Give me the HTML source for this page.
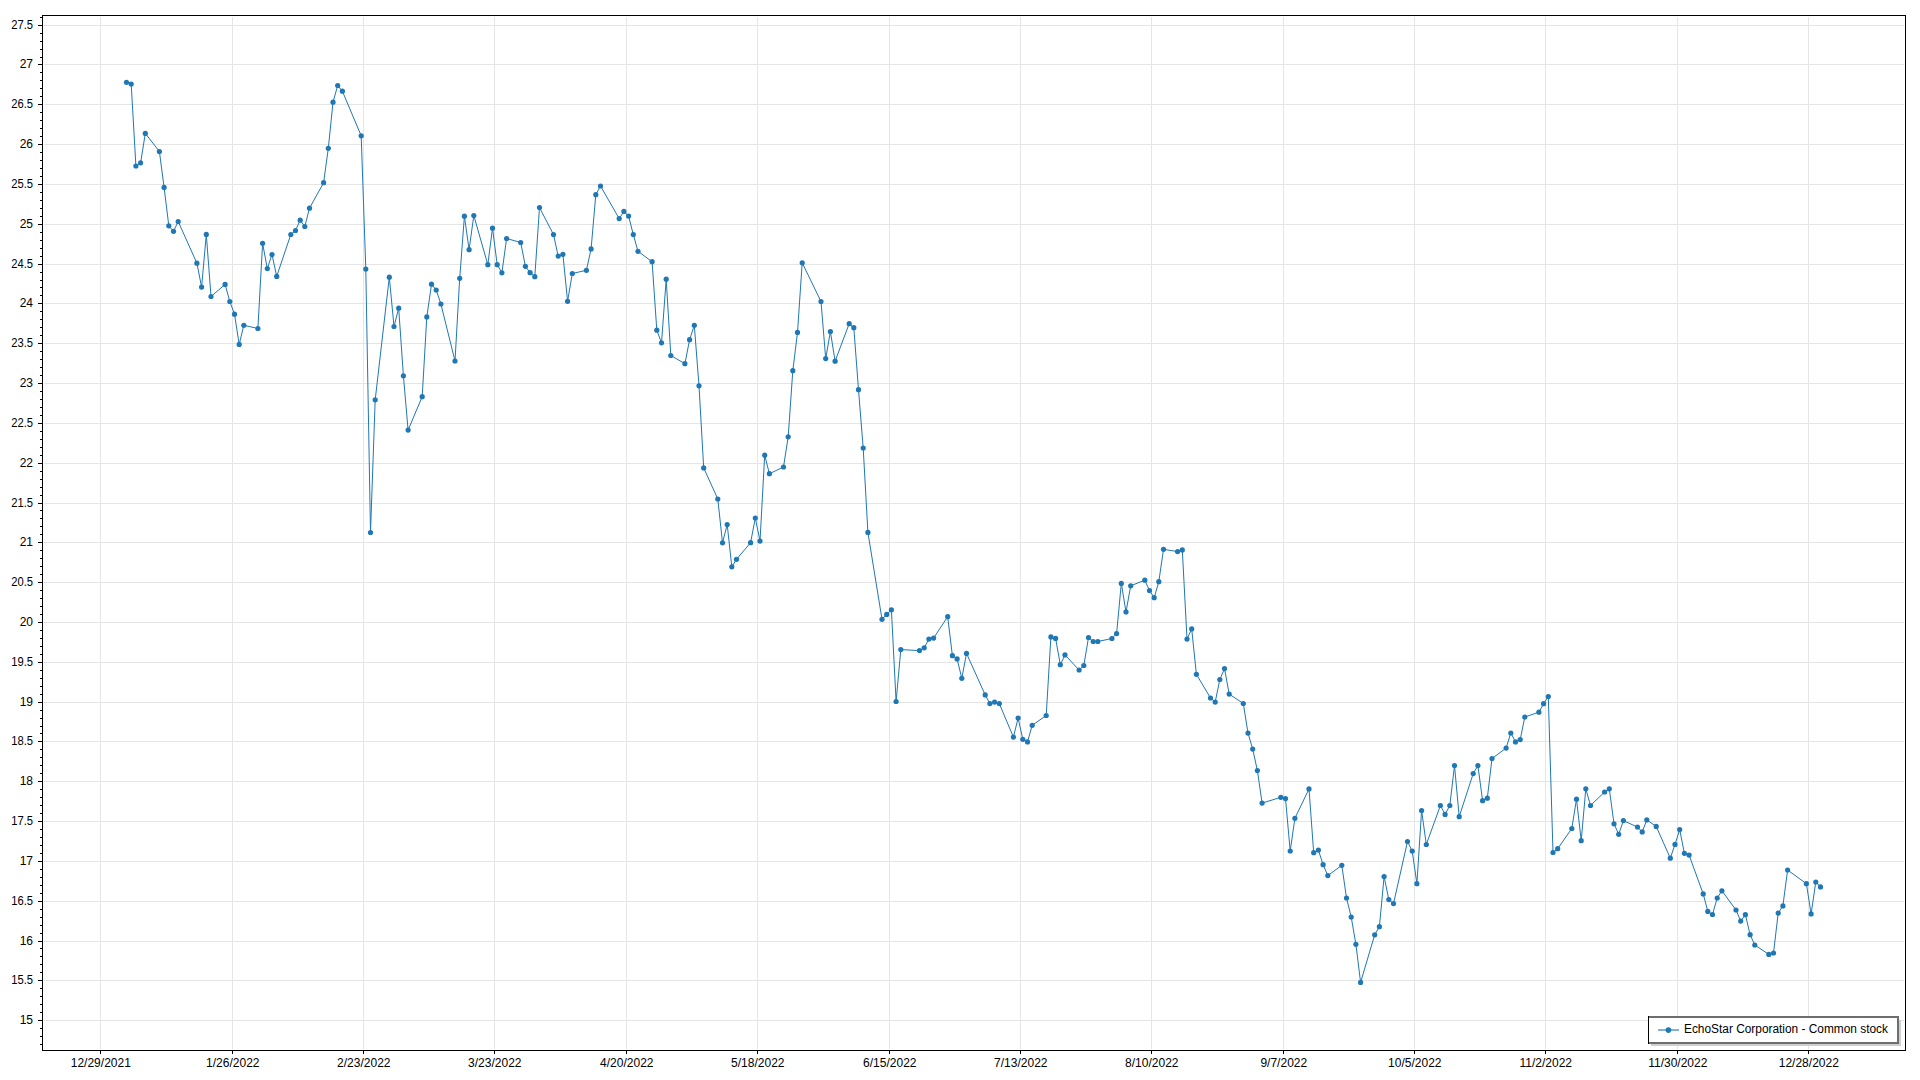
<!DOCTYPE html><html><head><meta charset="utf-8"><style>html,body{margin:0;padding:0;background:#fff;width:1920px;height:1080px;overflow:hidden}svg{display:block}text{font-family:"Liberation Sans",sans-serif;font-size:12px;fill:#000}</style></head><body>
<svg width="1920" height="1080" viewBox="0 0 1920 1080">
<rect x="0" y="0" width="1920" height="1080" fill="#fff"/>
<path d="M44 25.5H1904M44 64.5H1904M44 104.5H1904M44 144.5H1904M44 184.5H1904M44 224.5H1904M44 264.5H1904M44 303.5H1904M44 343.5H1904M44 383.5H1904M44 423.5H1904M44 463.5H1904M44 503.5H1904M44 542.5H1904M44 582.5H1904M44 622.5H1904M44 662.5H1904M44 702.5H1904M44 741.5H1904M44 781.5H1904M44 821.5H1904M44 861.5H1904M44 901.5H1904M44 941.5H1904M44 980.5H1904M44 1020.5H1904M100.5 17V1049M232.5 17V1049M363.5 17V1049M494.5 17V1049M626.5 17V1049M757.5 17V1049M889.5 17V1049M1020.5 17V1049M1151.5 17V1049M1283.5 17V1049M1414.5 17V1049M1545.5 17V1049M1677.5 17V1049M1808.5 17V1049" stroke="#e5e5e5" stroke-width="1" fill="none" shape-rendering="crispEdges"/>
<path d="M40 17.5H42M38 25.5H42M40 33.5H42M40 41.5H42M40 49.5H42M40 57.5H42M38 64.5H42M40 72.5H42M40 80.5H42M40 88.5H42M40 96.5H42M38 104.5H42M40 112.5H42M40 120.5H42M40 128.5H42M40 136.5H42M38 144.5H42M40 152.5H42M40 160.5H42M40 168.5H42M40 176.5H42M38 184.5H42M40 192.5H42M40 200.5H42M40 208.5H42M40 216.5H42M38 224.5H42M40 232.5H42M40 240.5H42M40 248.5H42M40 256.5H42M38 264.5H42M40 272.5H42M40 280.5H42M40 287.5H42M40 295.5H42M38 303.5H42M40 311.5H42M40 319.5H42M40 327.5H42M40 335.5H42M38 343.5H42M40 351.5H42M40 359.5H42M40 367.5H42M40 375.5H42M38 383.5H42M40 391.5H42M40 399.5H42M40 407.5H42M40 415.5H42M38 423.5H42M40 431.5H42M40 439.5H42M40 447.5H42M40 455.5H42M38 463.5H42M40 471.5H42M40 479.5H42M40 487.5H42M40 495.5H42M38 503.5H42M40 510.5H42M40 518.5H42M40 526.5H42M40 534.5H42M38 542.5H42M40 550.5H42M40 558.5H42M40 566.5H42M40 574.5H42M38 582.5H42M40 590.5H42M40 598.5H42M40 606.5H42M40 614.5H42M38 622.5H42M40 630.5H42M40 638.5H42M40 646.5H42M40 654.5H42M38 662.5H42M40 670.5H42M40 678.5H42M40 686.5H42M40 694.5H42M38 702.5H42M40 710.5H42M40 718.5H42M40 726.5H42M40 733.5H42M38 741.5H42M40 749.5H42M40 757.5H42M40 765.5H42M40 773.5H42M38 781.5H42M40 789.5H42M40 797.5H42M40 805.5H42M40 813.5H42M38 821.5H42M40 829.5H42M40 837.5H42M40 845.5H42M40 853.5H42M38 861.5H42M40 869.5H42M40 877.5H42M40 885.5H42M40 893.5H42M38 901.5H42M40 909.5H42M40 917.5H42M40 925.5H42M40 933.5H42M38 941.5H42M40 948.5H42M40 956.5H42M40 964.5H42M40 972.5H42M38 980.5H42M40 988.5H42M40 996.5H42M40 1004.5H42M40 1012.5H42M38 1020.5H42M40 1028.5H42M40 1036.5H42M40 1044.5H42M100.5 1051V1054M232.5 1051V1054M363.5 1051V1054M494.5 1051V1054M626.5 1051V1054M757.5 1051V1054M889.5 1051V1054M1020.5 1051V1054M1151.5 1051V1054M1283.5 1051V1054M1414.5 1051V1054M1545.5 1051V1054M1677.5 1051V1054M1808.5 1051V1054" stroke="#000" stroke-width="1" fill="none" shape-rendering="crispEdges"/>
<text x="33" y="28.6" text-anchor="end" textLength="21.8" lengthAdjust="spacingAndGlyphs">27.5</text><text x="33" y="67.6" text-anchor="end">27</text><text x="33" y="107.6" text-anchor="end" textLength="21.8" lengthAdjust="spacingAndGlyphs">26.5</text><text x="33" y="147.6" text-anchor="end">26</text><text x="33" y="187.6" text-anchor="end" textLength="21.8" lengthAdjust="spacingAndGlyphs">25.5</text><text x="33" y="227.6" text-anchor="end">25</text><text x="33" y="267.6" text-anchor="end" textLength="21.8" lengthAdjust="spacingAndGlyphs">24.5</text><text x="33" y="306.6" text-anchor="end">24</text><text x="33" y="346.6" text-anchor="end" textLength="21.8" lengthAdjust="spacingAndGlyphs">23.5</text><text x="33" y="386.6" text-anchor="end">23</text><text x="33" y="426.6" text-anchor="end" textLength="21.8" lengthAdjust="spacingAndGlyphs">22.5</text><text x="33" y="466.6" text-anchor="end">22</text><text x="33" y="506.6" text-anchor="end" textLength="21.8" lengthAdjust="spacingAndGlyphs">21.5</text><text x="33" y="545.6" text-anchor="end">21</text><text x="33" y="585.6" text-anchor="end" textLength="21.8" lengthAdjust="spacingAndGlyphs">20.5</text><text x="33" y="625.6" text-anchor="end">20</text><text x="33" y="665.6" text-anchor="end" textLength="21.8" lengthAdjust="spacingAndGlyphs">19.5</text><text x="33" y="705.6" text-anchor="end">19</text><text x="33" y="744.6" text-anchor="end" textLength="21.8" lengthAdjust="spacingAndGlyphs">18.5</text><text x="33" y="784.6" text-anchor="end">18</text><text x="33" y="824.6" text-anchor="end" textLength="21.8" lengthAdjust="spacingAndGlyphs">17.5</text><text x="33" y="864.6" text-anchor="end">17</text><text x="33" y="904.6" text-anchor="end" textLength="21.8" lengthAdjust="spacingAndGlyphs">16.5</text><text x="33" y="944.6" text-anchor="end">16</text><text x="33" y="983.6" text-anchor="end" textLength="21.8" lengthAdjust="spacingAndGlyphs">15.5</text><text x="33" y="1023.6" text-anchor="end">15</text><text x="100.8" y="1066.6" text-anchor="middle">12/29/2021</text><text x="232.8" y="1066.6" text-anchor="middle">1/26/2022</text><text x="363.8" y="1066.6" text-anchor="middle">2/23/2022</text><text x="494.8" y="1066.6" text-anchor="middle">3/23/2022</text><text x="626.8" y="1066.6" text-anchor="middle">4/20/2022</text><text x="757.8" y="1066.6" text-anchor="middle">5/18/2022</text><text x="889.8" y="1066.6" text-anchor="middle">6/15/2022</text><text x="1020.8" y="1066.6" text-anchor="middle">7/13/2022</text><text x="1151.8" y="1066.6" text-anchor="middle">8/10/2022</text><text x="1283.8" y="1066.6" text-anchor="middle">9/7/2022</text><text x="1414.8" y="1066.6" text-anchor="middle">10/5/2022</text><text x="1545.8" y="1066.6" text-anchor="middle">11/2/2022</text><text x="1677.8" y="1066.6" text-anchor="middle">11/30/2022</text><text x="1808.8" y="1066.6" text-anchor="middle">12/28/2022</text>
<path d="M126.5 82.3 L131.2 84.0 L135.9 166.0 L140.6 162.8 L145.3 133.4 L159.4 151.5 L164.1 187.4 L168.8 225.8 L173.5 231.3 L178.2 221.5 L196.9 263.2 L201.6 287.1 L206.3 234.4 L211.0 296.5 L225.1 284.4 L229.8 301.5 L234.5 314.2 L239.2 344.4 L243.8 325.3 L257.9 328.5 L262.6 243.3 L267.3 268.5 L272.0 254.6 L276.7 276.4 L290.8 234.5 L295.5 230.5 L300.2 220.2 L304.8 226.5 L309.5 208.2 L323.6 182.7 L328.3 148.3 L333.0 102.2 L337.7 85.5 L342.4 91.2 L361.2 135.8 L365.8 269.1 L370.5 532.5 L375.2 399.8 L389.3 277.2 L394.0 326.5 L398.7 308.2 L403.4 375.8 L408.1 430.1 L422.2 396.7 L426.8 316.9 L431.5 284.2 L436.2 290.0 L440.9 304.0 L455.0 361.0 L459.7 278.3 L464.4 216.2 L469.1 249.7 L473.8 215.5 L487.8 264.7 L492.5 228.2 L497.2 264.7 L501.9 272.8 L506.6 238.5 L520.7 242.5 L525.4 266.3 L530.1 272.7 L534.8 276.7 L539.5 207.5 L553.5 234.6 L558.2 256.1 L562.9 254.3 L567.6 301.3 L572.3 273.5 L586.4 270.3 L591.1 248.9 L595.8 194.7 L600.5 186.0 L619.2 218.6 L623.9 211.4 L628.6 216.1 L633.3 234.6 L638.0 251.3 L652.1 261.7 L656.8 330.2 L661.5 342.8 L666.2 279.2 L670.8 355.5 L684.9 363.7 L689.6 339.7 L694.3 325.3 L699.0 385.8 L703.7 467.9 L717.8 499.0 L722.5 542.8 L727.2 524.5 L731.8 566.8 L736.5 559.3 L750.6 542.7 L755.3 518.0 L760.0 541.1 L764.7 455.2 L769.4 473.7 L783.5 467.0 L788.2 436.8 L792.8 370.7 L797.5 332.4 L802.2 262.8 L821.0 301.5 L825.7 358.6 L830.4 331.6 L835.1 361.2 L849.2 323.7 L853.8 327.7 L858.5 389.7 L863.2 448.0 L867.9 532.4 L882.0 619.3 L886.7 614.4 L891.4 609.8 L896.1 701.5 L900.8 649.6 L919.5 650.6 L924.2 647.8 L928.9 639.1 L933.6 638.1 L947.7 616.7 L952.4 655.7 L957.1 658.9 L961.8 678.3 L966.5 653.4 L985.2 694.9 L989.9 703.6 L994.6 702.1 L999.3 703.6 L1013.4 737.1 L1018.1 718.1 L1022.8 739.3 L1027.5 741.9 L1032.2 725.3 L1046.2 715.5 L1050.9 636.9 L1055.6 638.4 L1060.3 664.7 L1065.0 654.9 L1079.1 670.0 L1083.8 665.5 L1088.5 637.5 L1093.2 641.5 L1097.8 641.5 L1111.9 638.5 L1116.6 633.6 L1121.3 583.4 L1126.0 611.9 L1130.7 585.8 L1144.8 580.2 L1149.5 590.6 L1154.2 597.7 L1158.8 581.7 L1163.5 549.3 L1177.6 551.6 L1182.3 549.9 L1187.0 639.1 L1191.7 628.9 L1196.4 674.3 L1210.5 698.0 L1215.2 702.1 L1219.8 679.5 L1224.5 668.6 L1229.2 694.1 L1243.3 703.5 L1248.0 733.1 L1252.7 749.1 L1257.4 770.6 L1262.1 803.1 L1280.8 797.3 L1285.5 798.6 L1290.2 851.0 L1294.9 818.3 L1309.0 788.9 L1313.7 852.7 L1318.4 850.1 L1323.1 864.7 L1327.8 875.6 L1341.8 865.3 L1346.5 898.0 L1351.2 917.0 L1355.9 944.3 L1360.6 982.4 L1374.7 934.8 L1379.4 926.7 L1384.1 876.5 L1388.8 899.6 L1393.5 903.6 L1407.5 841.5 L1412.2 851.0 L1416.9 883.7 L1421.6 810.5 L1426.3 844.5 L1440.4 805.5 L1445.1 814.4 L1449.8 805.5 L1454.5 765.6 L1459.2 816.7 L1473.2 773.6 L1477.9 765.6 L1482.6 800.7 L1487.3 798.2 L1492.0 758.5 L1506.1 748.1 L1510.8 733.0 L1515.5 741.9 L1520.2 739.6 L1524.8 717.0 L1538.9 712.2 L1543.6 703.7 L1548.3 696.5 L1553.0 852.5 L1557.7 848.7 L1571.8 828.5 L1576.5 799.2 L1581.2 840.7 L1585.8 788.8 L1590.5 805.5 L1604.6 792.0 L1609.3 788.8 L1614.0 823.8 L1618.7 834.3 L1623.4 820.6 L1637.5 827.1 L1642.2 831.9 L1646.8 819.9 L1656.2 826.4 L1670.3 858.2 L1675.0 844.4 L1679.7 829.6 L1684.4 853.3 L1689.1 855.1 L1703.2 893.9 L1707.8 911.4 L1712.5 914.5 L1717.2 898.0 L1721.9 890.8 L1736.0 910.0 L1740.7 921.1 L1745.4 914.7 L1750.1 934.7 L1754.8 945.0 L1768.8 954.4 L1773.5 953.0 L1778.2 913.1 L1782.9 905.9 L1787.6 870.0 L1806.4 883.7 L1811.1 913.9 L1815.8 882.0 L1820.5 886.9" stroke="#1f77b4" stroke-width="1" fill="none" stroke-linejoin="round"/>
<g fill="#1f77b4"><circle cx="126.5" cy="82.3" r="2.6"/><circle cx="131.2" cy="84.0" r="2.6"/><circle cx="135.9" cy="166.0" r="2.6"/><circle cx="140.6" cy="162.8" r="2.6"/><circle cx="145.3" cy="133.4" r="2.6"/><circle cx="159.4" cy="151.5" r="2.6"/><circle cx="164.1" cy="187.4" r="2.6"/><circle cx="168.8" cy="225.8" r="2.6"/><circle cx="173.5" cy="231.3" r="2.6"/><circle cx="178.2" cy="221.5" r="2.6"/><circle cx="196.9" cy="263.2" r="2.6"/><circle cx="201.6" cy="287.1" r="2.6"/><circle cx="206.3" cy="234.4" r="2.6"/><circle cx="211.0" cy="296.5" r="2.6"/><circle cx="225.1" cy="284.4" r="2.6"/><circle cx="229.8" cy="301.5" r="2.6"/><circle cx="234.5" cy="314.2" r="2.6"/><circle cx="239.2" cy="344.4" r="2.6"/><circle cx="243.8" cy="325.3" r="2.6"/><circle cx="257.9" cy="328.5" r="2.6"/><circle cx="262.6" cy="243.3" r="2.6"/><circle cx="267.3" cy="268.5" r="2.6"/><circle cx="272.0" cy="254.6" r="2.6"/><circle cx="276.7" cy="276.4" r="2.6"/><circle cx="290.8" cy="234.5" r="2.6"/><circle cx="295.5" cy="230.5" r="2.6"/><circle cx="300.2" cy="220.2" r="2.6"/><circle cx="304.8" cy="226.5" r="2.6"/><circle cx="309.5" cy="208.2" r="2.6"/><circle cx="323.6" cy="182.7" r="2.6"/><circle cx="328.3" cy="148.3" r="2.6"/><circle cx="333.0" cy="102.2" r="2.6"/><circle cx="337.7" cy="85.5" r="2.6"/><circle cx="342.4" cy="91.2" r="2.6"/><circle cx="361.2" cy="135.8" r="2.6"/><circle cx="365.8" cy="269.1" r="2.6"/><circle cx="370.5" cy="532.5" r="2.6"/><circle cx="375.2" cy="399.8" r="2.6"/><circle cx="389.3" cy="277.2" r="2.6"/><circle cx="394.0" cy="326.5" r="2.6"/><circle cx="398.7" cy="308.2" r="2.6"/><circle cx="403.4" cy="375.8" r="2.6"/><circle cx="408.1" cy="430.1" r="2.6"/><circle cx="422.2" cy="396.7" r="2.6"/><circle cx="426.8" cy="316.9" r="2.6"/><circle cx="431.5" cy="284.2" r="2.6"/><circle cx="436.2" cy="290.0" r="2.6"/><circle cx="440.9" cy="304.0" r="2.6"/><circle cx="455.0" cy="361.0" r="2.6"/><circle cx="459.7" cy="278.3" r="2.6"/><circle cx="464.4" cy="216.2" r="2.6"/><circle cx="469.1" cy="249.7" r="2.6"/><circle cx="473.8" cy="215.5" r="2.6"/><circle cx="487.8" cy="264.7" r="2.6"/><circle cx="492.5" cy="228.2" r="2.6"/><circle cx="497.2" cy="264.7" r="2.6"/><circle cx="501.9" cy="272.8" r="2.6"/><circle cx="506.6" cy="238.5" r="2.6"/><circle cx="520.7" cy="242.5" r="2.6"/><circle cx="525.4" cy="266.3" r="2.6"/><circle cx="530.1" cy="272.7" r="2.6"/><circle cx="534.8" cy="276.7" r="2.6"/><circle cx="539.5" cy="207.5" r="2.6"/><circle cx="553.5" cy="234.6" r="2.6"/><circle cx="558.2" cy="256.1" r="2.6"/><circle cx="562.9" cy="254.3" r="2.6"/><circle cx="567.6" cy="301.3" r="2.6"/><circle cx="572.3" cy="273.5" r="2.6"/><circle cx="586.4" cy="270.3" r="2.6"/><circle cx="591.1" cy="248.9" r="2.6"/><circle cx="595.8" cy="194.7" r="2.6"/><circle cx="600.5" cy="186.0" r="2.6"/><circle cx="619.2" cy="218.6" r="2.6"/><circle cx="623.9" cy="211.4" r="2.6"/><circle cx="628.6" cy="216.1" r="2.6"/><circle cx="633.3" cy="234.6" r="2.6"/><circle cx="638.0" cy="251.3" r="2.6"/><circle cx="652.1" cy="261.7" r="2.6"/><circle cx="656.8" cy="330.2" r="2.6"/><circle cx="661.5" cy="342.8" r="2.6"/><circle cx="666.2" cy="279.2" r="2.6"/><circle cx="670.8" cy="355.5" r="2.6"/><circle cx="684.9" cy="363.7" r="2.6"/><circle cx="689.6" cy="339.7" r="2.6"/><circle cx="694.3" cy="325.3" r="2.6"/><circle cx="699.0" cy="385.8" r="2.6"/><circle cx="703.7" cy="467.9" r="2.6"/><circle cx="717.8" cy="499.0" r="2.6"/><circle cx="722.5" cy="542.8" r="2.6"/><circle cx="727.2" cy="524.5" r="2.6"/><circle cx="731.8" cy="566.8" r="2.6"/><circle cx="736.5" cy="559.3" r="2.6"/><circle cx="750.6" cy="542.7" r="2.6"/><circle cx="755.3" cy="518.0" r="2.6"/><circle cx="760.0" cy="541.1" r="2.6"/><circle cx="764.7" cy="455.2" r="2.6"/><circle cx="769.4" cy="473.7" r="2.6"/><circle cx="783.5" cy="467.0" r="2.6"/><circle cx="788.2" cy="436.8" r="2.6"/><circle cx="792.8" cy="370.7" r="2.6"/><circle cx="797.5" cy="332.4" r="2.6"/><circle cx="802.2" cy="262.8" r="2.6"/><circle cx="821.0" cy="301.5" r="2.6"/><circle cx="825.7" cy="358.6" r="2.6"/><circle cx="830.4" cy="331.6" r="2.6"/><circle cx="835.1" cy="361.2" r="2.6"/><circle cx="849.2" cy="323.7" r="2.6"/><circle cx="853.8" cy="327.7" r="2.6"/><circle cx="858.5" cy="389.7" r="2.6"/><circle cx="863.2" cy="448.0" r="2.6"/><circle cx="867.9" cy="532.4" r="2.6"/><circle cx="882.0" cy="619.3" r="2.6"/><circle cx="886.7" cy="614.4" r="2.6"/><circle cx="891.4" cy="609.8" r="2.6"/><circle cx="896.1" cy="701.5" r="2.6"/><circle cx="900.8" cy="649.6" r="2.6"/><circle cx="919.5" cy="650.6" r="2.6"/><circle cx="924.2" cy="647.8" r="2.6"/><circle cx="928.9" cy="639.1" r="2.6"/><circle cx="933.6" cy="638.1" r="2.6"/><circle cx="947.7" cy="616.7" r="2.6"/><circle cx="952.4" cy="655.7" r="2.6"/><circle cx="957.1" cy="658.9" r="2.6"/><circle cx="961.8" cy="678.3" r="2.6"/><circle cx="966.5" cy="653.4" r="2.6"/><circle cx="985.2" cy="694.9" r="2.6"/><circle cx="989.9" cy="703.6" r="2.6"/><circle cx="994.6" cy="702.1" r="2.6"/><circle cx="999.3" cy="703.6" r="2.6"/><circle cx="1013.4" cy="737.1" r="2.6"/><circle cx="1018.1" cy="718.1" r="2.6"/><circle cx="1022.8" cy="739.3" r="2.6"/><circle cx="1027.5" cy="741.9" r="2.6"/><circle cx="1032.2" cy="725.3" r="2.6"/><circle cx="1046.2" cy="715.5" r="2.6"/><circle cx="1050.9" cy="636.9" r="2.6"/><circle cx="1055.6" cy="638.4" r="2.6"/><circle cx="1060.3" cy="664.7" r="2.6"/><circle cx="1065.0" cy="654.9" r="2.6"/><circle cx="1079.1" cy="670.0" r="2.6"/><circle cx="1083.8" cy="665.5" r="2.6"/><circle cx="1088.5" cy="637.5" r="2.6"/><circle cx="1093.2" cy="641.5" r="2.6"/><circle cx="1097.8" cy="641.5" r="2.6"/><circle cx="1111.9" cy="638.5" r="2.6"/><circle cx="1116.6" cy="633.6" r="2.6"/><circle cx="1121.3" cy="583.4" r="2.6"/><circle cx="1126.0" cy="611.9" r="2.6"/><circle cx="1130.7" cy="585.8" r="2.6"/><circle cx="1144.8" cy="580.2" r="2.6"/><circle cx="1149.5" cy="590.6" r="2.6"/><circle cx="1154.2" cy="597.7" r="2.6"/><circle cx="1158.8" cy="581.7" r="2.6"/><circle cx="1163.5" cy="549.3" r="2.6"/><circle cx="1177.6" cy="551.6" r="2.6"/><circle cx="1182.3" cy="549.9" r="2.6"/><circle cx="1187.0" cy="639.1" r="2.6"/><circle cx="1191.7" cy="628.9" r="2.6"/><circle cx="1196.4" cy="674.3" r="2.6"/><circle cx="1210.5" cy="698.0" r="2.6"/><circle cx="1215.2" cy="702.1" r="2.6"/><circle cx="1219.8" cy="679.5" r="2.6"/><circle cx="1224.5" cy="668.6" r="2.6"/><circle cx="1229.2" cy="694.1" r="2.6"/><circle cx="1243.3" cy="703.5" r="2.6"/><circle cx="1248.0" cy="733.1" r="2.6"/><circle cx="1252.7" cy="749.1" r="2.6"/><circle cx="1257.4" cy="770.6" r="2.6"/><circle cx="1262.1" cy="803.1" r="2.6"/><circle cx="1280.8" cy="797.3" r="2.6"/><circle cx="1285.5" cy="798.6" r="2.6"/><circle cx="1290.2" cy="851.0" r="2.6"/><circle cx="1294.9" cy="818.3" r="2.6"/><circle cx="1309.0" cy="788.9" r="2.6"/><circle cx="1313.7" cy="852.7" r="2.6"/><circle cx="1318.4" cy="850.1" r="2.6"/><circle cx="1323.1" cy="864.7" r="2.6"/><circle cx="1327.8" cy="875.6" r="2.6"/><circle cx="1341.8" cy="865.3" r="2.6"/><circle cx="1346.5" cy="898.0" r="2.6"/><circle cx="1351.2" cy="917.0" r="2.6"/><circle cx="1355.9" cy="944.3" r="2.6"/><circle cx="1360.6" cy="982.4" r="2.6"/><circle cx="1374.7" cy="934.8" r="2.6"/><circle cx="1379.4" cy="926.7" r="2.6"/><circle cx="1384.1" cy="876.5" r="2.6"/><circle cx="1388.8" cy="899.6" r="2.6"/><circle cx="1393.5" cy="903.6" r="2.6"/><circle cx="1407.5" cy="841.5" r="2.6"/><circle cx="1412.2" cy="851.0" r="2.6"/><circle cx="1416.9" cy="883.7" r="2.6"/><circle cx="1421.6" cy="810.5" r="2.6"/><circle cx="1426.3" cy="844.5" r="2.6"/><circle cx="1440.4" cy="805.5" r="2.6"/><circle cx="1445.1" cy="814.4" r="2.6"/><circle cx="1449.8" cy="805.5" r="2.6"/><circle cx="1454.5" cy="765.6" r="2.6"/><circle cx="1459.2" cy="816.7" r="2.6"/><circle cx="1473.2" cy="773.6" r="2.6"/><circle cx="1477.9" cy="765.6" r="2.6"/><circle cx="1482.6" cy="800.7" r="2.6"/><circle cx="1487.3" cy="798.2" r="2.6"/><circle cx="1492.0" cy="758.5" r="2.6"/><circle cx="1506.1" cy="748.1" r="2.6"/><circle cx="1510.8" cy="733.0" r="2.6"/><circle cx="1515.5" cy="741.9" r="2.6"/><circle cx="1520.2" cy="739.6" r="2.6"/><circle cx="1524.8" cy="717.0" r="2.6"/><circle cx="1538.9" cy="712.2" r="2.6"/><circle cx="1543.6" cy="703.7" r="2.6"/><circle cx="1548.3" cy="696.5" r="2.6"/><circle cx="1553.0" cy="852.5" r="2.6"/><circle cx="1557.7" cy="848.7" r="2.6"/><circle cx="1571.8" cy="828.5" r="2.6"/><circle cx="1576.5" cy="799.2" r="2.6"/><circle cx="1581.2" cy="840.7" r="2.6"/><circle cx="1585.8" cy="788.8" r="2.6"/><circle cx="1590.5" cy="805.5" r="2.6"/><circle cx="1604.6" cy="792.0" r="2.6"/><circle cx="1609.3" cy="788.8" r="2.6"/><circle cx="1614.0" cy="823.8" r="2.6"/><circle cx="1618.7" cy="834.3" r="2.6"/><circle cx="1623.4" cy="820.6" r="2.6"/><circle cx="1637.5" cy="827.1" r="2.6"/><circle cx="1642.2" cy="831.9" r="2.6"/><circle cx="1646.8" cy="819.9" r="2.6"/><circle cx="1656.2" cy="826.4" r="2.6"/><circle cx="1670.3" cy="858.2" r="2.6"/><circle cx="1675.0" cy="844.4" r="2.6"/><circle cx="1679.7" cy="829.6" r="2.6"/><circle cx="1684.4" cy="853.3" r="2.6"/><circle cx="1689.1" cy="855.1" r="2.6"/><circle cx="1703.2" cy="893.9" r="2.6"/><circle cx="1707.8" cy="911.4" r="2.6"/><circle cx="1712.5" cy="914.5" r="2.6"/><circle cx="1717.2" cy="898.0" r="2.6"/><circle cx="1721.9" cy="890.8" r="2.6"/><circle cx="1736.0" cy="910.0" r="2.6"/><circle cx="1740.7" cy="921.1" r="2.6"/><circle cx="1745.4" cy="914.7" r="2.6"/><circle cx="1750.1" cy="934.7" r="2.6"/><circle cx="1754.8" cy="945.0" r="2.6"/><circle cx="1768.8" cy="954.4" r="2.6"/><circle cx="1773.5" cy="953.0" r="2.6"/><circle cx="1778.2" cy="913.1" r="2.6"/><circle cx="1782.9" cy="905.9" r="2.6"/><circle cx="1787.6" cy="870.0" r="2.6"/><circle cx="1806.4" cy="883.7" r="2.6"/><circle cx="1811.1" cy="913.9" r="2.6"/><circle cx="1815.8" cy="882.0" r="2.6"/><circle cx="1820.5" cy="886.9" r="2.6"/></g>
<rect x="42.5" y="15.5" width="1863" height="1035" fill="none" stroke="#000" stroke-width="1" shape-rendering="crispEdges"/>
<path d="M1651 1045H1901M1900 1020V1046" stroke="#cfcfcf" stroke-width="2" fill="none" shape-rendering="crispEdges"/>
<rect x="1648" y="1016" width="251" height="28" fill="#fff"/>
<path d="M1648 1017H1898V1043H1648" stroke="#6e6e6e" stroke-width="2" fill="none" shape-rendering="crispEdges"/>
<path d="M1648.5 1016V1044" stroke="#000" stroke-width="1" fill="none" shape-rendering="crispEdges"/>
<path d="M1658 1030H1679" stroke="#80b3d9" stroke-width="2"/>
<circle cx="1668.4" cy="1030.1" r="2.8" fill="#1f77b4"/>
<text x="1684" y="1033" textLength="204" lengthAdjust="spacingAndGlyphs">EchoStar Corporation - Common stock</text>
</svg></body></html>
